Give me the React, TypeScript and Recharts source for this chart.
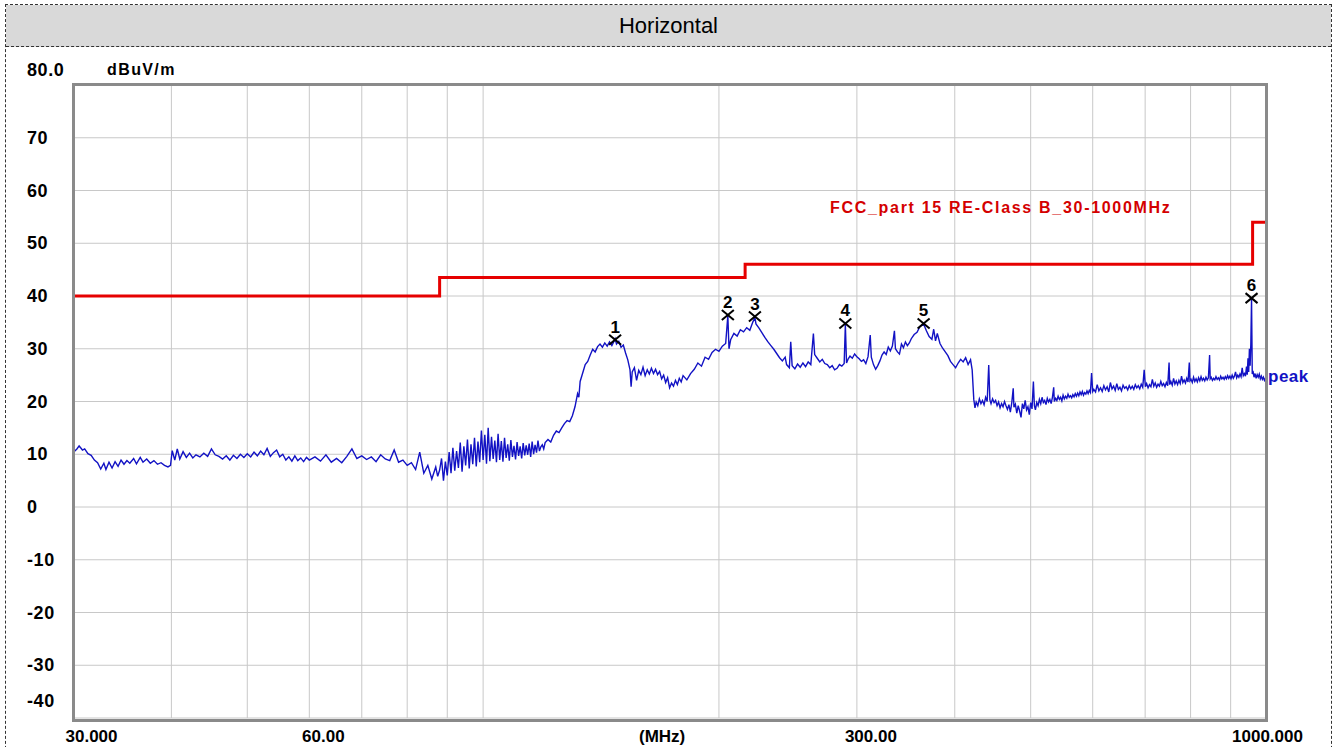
import React from "react";
import { ComposedChart, Line, Scatter, XAxis, YAxis, CartesianGrid } from "recharts";

// ---------- data ----------
const freqTicks = [30, 40, 50, 60, 70, 80, 90, 100, 200, 300, 400, 500, 600, 700, 800, 900, 1000];
const freqTickLabels: Record<number, string> = { 30: "30.000", 60: "60.00", 300: "300.00", 1000: "1000.000" };
const levelTicks = [80, 70, 60, 50, 40, 30, 20, 10, 0, -10, -20, -30, -40];
const levelTickLabels: Record<number, string> = { 80: "80.0" };

const limitFreqs = [30, 88, 216, 960, 1000];
const limitLevels = [40, 43.5, 46, 54, 54];

const markerIds = ["1", "2", "3", "4", "5", "6"];
const markerFreqs = [147.4, 205.3, 222.3, 290, 365, 957];
const markerLevels = [31.7, 36.4, 36.1, 34.8, 34.8, 39.6];

const peakTrace: [number, number][] = [
  [30, 10.4], [30.3, 11.0], [30.5, 11.6], [30.8, 10.8], [31.0, 11.0], [31.3, 10.1], [31.6, 9.8], [31.9, 8.9], [32.2, 8.4], [32.5, 7.2],
  [32.8, 8.3], [33.0, 7.1], [33.3, 8.5], [33.6, 7.4], [33.9, 8.6], [34.2, 7.7], [34.5, 8.9], [34.8, 8.1], [35.1, 8.8], [35.4, 8.3],
  [35.8, 9.2], [36.1, 8.2], [36.5, 9.4], [36.8, 8.5], [37.2, 9.1], [37.6, 8.3], [38.0, 8.8], [38.4, 8.1], [38.8, 8.4], [39.2, 7.9],
  [39.6, 7.6], [39.9, 7.9],
  [40.1, 10.7], [40.4, 8.9], [40.7, 11.0], [41.0, 9.1], [41.4, 10.5], [41.8, 9.4], [42.2, 10.2], [42.6, 9.3], [43.0, 9.9], [43.5, 9.5],
  [44.0, 10.2], [44.5, 9.6], [45.0, 11.0], [45.5, 9.9], [46.0, 9.6], [46.5, 9.1], [47.0, 9.7], [47.5, 8.9], [48.0, 9.8], [48.5, 9.2],
  [49.0, 10.0], [49.5, 9.4], [50.0, 10.1],
  [50.5, 9.5], [51.0, 10.4], [51.5, 9.7], [52.0, 10.6], [52.5, 9.9], [53.0, 11.1], [53.5, 9.6], [54.0, 10.3], [54.5, 10.8], [55.0, 9.5],
  [55.5, 10.0], [56.0, 8.9], [56.5, 9.5], [57.0, 8.7], [57.5, 9.7], [58.0, 8.8], [58.5, 9.3], [59.0, 8.6], [59.5, 9.4], [60.0, 8.9],
  [61, 9.5], [62, 8.7], [63, 9.9], [64, 8.5], [65, 9.2], [66, 8.4], [67, 9.6], [68, 11.0], [69, 9.2], [70, 9.7],
  [71, 9.0], [72, 9.5], [73, 8.6], [74, 9.9], [75, 9.1], [76, 8.8], [77, 10.8], [78, 8.5], [79, 8.9], [80, 7.9],
  [81, 8.4], [82, 7.1], [83, 10.4], [84, 6.4], [85, 7.9], [86, 5.3], [87, 7.6], [87.5, 5.8], [88, 7.0],
  [88.5, 9.2], [89, 5.0], [89.5, 8.6], [90, 6.0], [90.5, 10.4], [91, 6.4], [91.5, 11.2], [92, 6.9], [92.5, 10.6], [93, 7.4],
  [93.5, 12.2], [94, 6.7], [94.5, 11.5], [95, 7.9], [95.5, 12.8], [96, 7.3], [96.5, 11.9], [97, 8.1], [97.5, 13.1], [98, 7.7],
  [98.5, 12.4], [99, 8.5], [99.5, 14.5], [100, 8.9], [100.5, 13.7], [101, 8.2], [101.5, 15.0], [102, 8.7], [102.5, 13.3], [103, 9.1],
  [103.5, 12.6], [104, 8.5], [104.5, 13.9], [105, 8.9], [105.5, 12.5], [106, 8.6], [106.5, 13.1], [107, 9.3], [107.5, 11.9], [108, 8.8],
  [108.5, 12.7], [109, 9.5], [109.5, 11.6], [110, 9.0], [110.5, 12.3], [111, 9.7], [111.5, 11.5], [112, 9.2], [112.5, 12.1], [113, 9.8],
  [113.5, 11.7], [114, 9.9], [114.5, 12.0], [115, 9.5], [115.5, 12.4], [116, 10.0], [116.5, 11.8], [117, 10.3], [117.5, 12.6], [118, 10.6],
  [118.5, 11.4], [119, 11.8], [119.5, 11.0],
  [120, 12.2], [121, 12.8], [122, 12.3], [123, 13.6], [124, 14.4], [125, 14.1], [126, 15.0], [127, 15.8], [128, 16.4], [129, 16.2],
  [130, 17.3], [131, 19.0], [132, 21.5], [132.5, 20.8], [133, 23.8], [134, 25.4], [135, 27.0], [136, 27.6], [137, 28.8], [138, 29.9],
  [139, 29.4], [140, 30.4], [141, 30.9], [142, 30.3], [143, 31.1], [144, 30.5], [145, 31.3], [146, 30.6], [147, 31.5], [147.4, 31.9],
  [148, 30.9], [149, 31.4], [150, 30.3], [151, 30.7], [152, 29.2], [153, 27.9], [154, 26.0], [154.5, 22.8], [155, 25.6], [156, 26.4],
  [157, 24.0], [158, 25.9], [159, 25.1], [160, 26.5], [161, 24.9], [162, 26.0], [163, 25.2], [164, 26.3], [165, 25.3], [166, 26.1],
  [167, 25.1], [168, 25.7], [169, 24.3], [170, 25.0], [171, 23.6], [172, 24.5], [173, 22.6], [174, 23.5], [175, 22.9], [176, 24.0],
  [177, 23.2], [178, 24.4], [179, 23.7], [180, 24.9], [182, 24.1], [184, 25.3], [186, 26.1], [188, 27.3], [190, 26.7], [192, 28.4],
  [194, 28.0], [196, 29.3], [198, 29.9], [200, 29.5], [202, 30.5], [204, 31.0], [205.3, 36.3], [206, 30.0], [207, 31.7], [209, 32.9],
  [211, 32.4], [213, 33.6], [215, 33.2], [217, 34.0], [219, 33.5], [221, 35.1], [222.3, 35.9], [223, 34.7], [225, 33.9], [227, 33.0],
  [229, 32.1], [231, 31.3], [233, 30.6], [235, 29.9], [237, 29.1], [239, 28.3], [241, 27.7], [243, 28.4], [244, 27.0], [246, 26.4],
  [247, 31.3], [248, 26.8], [250, 26.2], [252, 27.1], [254, 26.5], [256, 27.3], [258, 26.6], [260, 27.5], [262, 27.0], [264, 32.9],
  [265, 28.9], [267, 28.2], [269, 27.5], [271, 28.0], [273, 27.2], [275, 27.0], [277, 26.4], [279, 26.8], [281, 26.0], [283, 26.3],
  [285, 27.0], [287, 26.7], [289, 27.2], [290, 34.6], [291, 27.3], [292.5, 28.1], [294, 28.6], [296, 28.2], [298, 29.0], [300, 28.5],
  [302, 28.1], [304, 27.6], [306, 27.9], [308, 27.2], [310, 28.5], [312, 32.6], [313, 28.4], [315, 27.0], [317, 26.1], [319, 26.8],
  [321, 27.7], [323, 28.8], [325, 29.4], [327, 28.9], [329, 30.3], [331, 29.6], [333, 30.5], [335, 33.4], [336, 30.0], [338, 29.4],
  [340, 29.0], [342, 30.9], [344, 30.2], [346, 31.3], [348, 30.6], [350, 31.1], [352, 31.9], [355, 32.7], [358, 33.1], [361, 34.2],
  [365, 34.7], [368, 33.4], [371, 32.3], [374, 31.8], [376, 33.7], [378, 31.5], [380, 32.9], [383, 31.0], [386, 30.1], [389, 29.4],
  [392, 28.7], [395, 27.6], [398, 27.0], [401, 26.4], [404, 27.3], [407, 28.0], [410, 27.5], [413, 28.3], [416, 27.0], [419, 27.9],
  [421, 26.0], [423, 20.4], [424.5, 18.8], [426, 19.9], [428, 19.2], [430, 20.5], [432, 19.6], [434, 20.2], [436, 19.4], [438, 20.8],
  [440, 20.0], [442, 26.9], [443.5, 20.3], [445, 19.6], [447, 20.5], [449, 19.8], [451, 20.2], [453, 19.2], [455, 19.9], [457, 18.8],
  [459, 19.6], [461, 19.0], [463, 20.0], [465, 19.2], [467, 18.5], [469, 19.4], [471, 18.0], [473, 19.8], [475, 22.5], [476, 18.9],
  [478, 19.5], [480, 17.8], [482, 19.2], [484, 18.2], [486, 17.0], [488, 19.6], [490, 18.6], [492, 20.2], [494, 18.4], [496, 19.0],
  [498, 17.5], [500, 19.8], [502, 18.6], [504, 23.8], [505.5, 19.2], [507, 18.4], [509, 19.8], [511, 19.2], [513, 20.4], [515, 19.6],
  [517, 20.8], [519, 19.8], [521, 20.2], [523, 19.4], [525, 20.6], [527, 19.9], [529, 20.4], [531, 19.6], [533, 20.8], [535, 22.7],
  [536, 20.0], [538, 20.6], [540, 20.2], [542, 21.0], [544, 20.4], [546, 20.8], [548, 20.1], [550, 21.2], [552, 20.5], [554, 21.0],
  [556, 20.6], [558, 21.4], [560, 20.8], [562, 21.1], [564, 20.7], [566, 21.3], [568, 20.9], [570, 21.5], [572, 21.0], [574, 21.6],
  [576, 21.1], [578, 21.8], [580, 21.3], [582, 21.9], [584, 21.2], [586, 21.7], [588, 21.4], [590, 22.0], [592, 21.5], [594, 22.1],
  [596, 21.7], [598, 25.4], [600, 21.9], [602, 22.3], [605, 21.8], [608, 23.2], [611, 22.0], [614, 22.6], [617, 21.9], [620, 23.0],
  [623, 22.2], [626, 22.8], [629, 21.8], [632, 23.6], [635, 22.4], [638, 22.9], [641, 22.1], [644, 23.4], [647, 22.3], [650, 22.7],
  [653, 22.0], [656, 23.1], [659, 22.5], [662, 22.8], [665, 22.2], [668, 23.0], [671, 22.4], [674, 22.9], [677, 22.3], [680, 23.2],
  [683, 22.6], [686, 23.0], [689, 22.4], [692, 23.3], [695, 22.7], [698, 26.0], [700.5, 22.8], [703, 23.4], [706, 22.6], [709, 23.2],
  [712, 22.8], [715, 24.2], [718, 22.9], [721, 23.5], [724, 22.7], [727, 23.3], [730, 22.9], [733, 23.8], [736, 23.0], [739, 23.4],
  [742, 22.8], [745, 23.6], [748, 23.0], [751, 27.4], [752.5, 23.2], [755, 23.8], [758, 23.1], [761, 24.4], [764, 23.3], [767, 23.9],
  [770, 23.2], [773, 24.0], [776, 23.4], [779, 24.8], [782, 23.6], [785, 24.1], [788, 23.5], [791, 24.4], [794, 23.7], [797, 27.4],
  [798.5, 23.9], [801, 24.2], [804, 23.6], [807, 24.6], [810, 23.8], [813, 24.3], [816, 23.7], [819, 24.5], [822, 23.9], [825, 24.7],
  [828, 24.0], [831, 24.4], [834, 23.9], [837, 24.6], [840, 24.1], [843, 24.5], [846, 28.8], [847.5, 24.3], [850, 24.6], [853, 24.0],
  [856, 24.4], [859, 24.1], [862, 24.7], [865, 24.2], [868, 24.5], [871, 24.1], [874, 24.8], [877, 24.3], [880, 24.6], [883, 24.2],
  [886, 24.7], [889, 24.3], [892, 24.9], [895, 24.4], [898, 24.8], [901, 24.3], [904, 25.0], [907, 24.4], [910, 24.8], [913, 25.6],
  [916, 24.5], [919, 25.0], [922, 24.6], [925, 25.2], [928, 24.7], [931, 26.4], [934, 24.9], [937, 25.3], [940, 24.8], [943, 26.6],
  [945, 25.1], [947, 28.2], [949, 25.6], [951, 30.0], [953, 26.8], [955, 31.0], [957, 39.5], [958, 32.5], [959, 25.2], [961, 25.8],
  [964, 24.6], [967, 25.3], [970, 24.4], [973, 25.1], [976, 24.6], [979, 25.2], [982, 24.3], [985, 24.8], [988, 24.2], [991, 24.6],
  [994, 24.0], [997, 24.4], [1000, 24.1],
];

// ---------- derived series ----------
const traceData = peakTrace.map(([f, v]) => ({ f, v }));
const limitData = limitFreqs.map((f, i) => ({ f, v: limitLevels[i] }));
const markerData = markerFreqs.map((f, i) => ({ f, v: markerLevels[i], n: markerIds[i] }));

// ---------- styles ----------
const W = 1338;
const H = 747;
const LABEL_FONT = "'Liberation Sans', Arial, sans-serif";
const xLabelShift: Record<number, number> = { 30: 18, 60: 14, 300: 14, 1000: 1 };

const renderYTick = (p: any) => {
  const v = p.payload.value as number;
  const dy = v === 80 ? -15 : v === -40 ? -17 : 0;
  return (
    <text key={`y${v}`} x={27} y={p.y + dy} dominantBaseline="central" textAnchor="start" fontFamily={LABEL_FONT}
      fontWeight="bold" fontSize={18} letterSpacing={0.6} fill="#000">
      {levelTickLabels[v] ?? String(v)}
    </text>
  );
};

const renderXTick = (p: any) => {
  const v = p.payload.value as number;
  const t = freqTickLabels[v];
  if (!t) return <g key={`x${v}`} />;
  return (
    <text key={`x${v}`} x={p.x + (xLabelShift[v] || 0)} y={736} dominantBaseline="central" textAnchor="middle"
      fontFamily={LABEL_FONT} fontWeight="bold" fontSize={17} fill="#000">
      {t}
    </text>
  );
};

const MarkerShape = (p: any) => {
  const { cx, cy, payload } = p;
  return (
    <g>
      <line x1={cx - 6} y1={cy - 5} x2={cx + 6} y2={cy + 5} stroke="#000" strokeWidth={2} />
      <line x1={cx - 6} y1={cy + 5} x2={cx + 6} y2={cy - 5} stroke="#000" strokeWidth={2} />
      <text x={cx} y={cy - 7} textAnchor="middle" fontFamily={LABEL_FONT} fontWeight="bold" fontSize={17} fill="#000">
        {payload.n}
      </text>
    </g>
  );
};

const txt = (extra: React.CSSProperties): React.CSSProperties => ({
  position: "absolute",
  fontFamily: LABEL_FONT,
  fontWeight: "bold",
  lineHeight: "1",
  whiteSpace: "nowrap",
  ...extra,
});

export default function App() {
  return (
    <div style={{ position: "absolute", left: 0, top: 0, width: W, height: H, overflow: "hidden", background: "#fff" }}>
      {/* outer dashed frame with title bar */}
      <div style={{ position: "absolute", left: 5, top: 4, width: 1327, height: 780, border: "1px dashed #333", boxSizing: "border-box" }} />
      <div style={{ position: "absolute", left: 6, top: 5, width: 1325, height: 41, background: "#d9d9d9", borderBottom: "1px dashed #333",
        display: "flex", alignItems: "center", justifyContent: "center", fontFamily: "'Liberation Sans', Arial, sans-serif", fontSize: 22, color: "#000" }}>
        Horizontal
      </div>

      <div style={{ position: "absolute", left: 0, top: 0 }}>
        <ComposedChart width={W} height={H} margin={{ top: 85, right: 71.5, bottom: 19, left: 63.5 }}>
          <CartesianGrid stroke="#c8c8c8" strokeWidth={1} />
          <XAxis dataKey="f" type="number" scale="log" domain={[30, 1000]} allowDataOverflow ticks={freqTicks}
            interval={0} axisLine={false} tickLine={false} height={10} tick={renderXTick} />
          <YAxis type="number" domain={[-40, 80]} allowDataOverflow ticks={levelTicks} interval={0}
            axisLine={false} tickLine={false} width={10} tick={renderYTick} />
          <Line data={limitData} dataKey="v" type="stepAfter" stroke="#e60000" strokeWidth={3} dot={false}
            isAnimationActive={false} />
          <Line data={traceData} dataKey="v" type="linear" stroke="#1212c4" strokeWidth={1.4} dot={false}
            isAnimationActive={false} />
          <Scatter data={markerData} dataKey="v" shape={<MarkerShape />} isAnimationActive={false} />
        </ComposedChart>
      </div>

      {/* plot frame */}
      <div style={{ position: "absolute", left: 72, top: 83, width: 1196, height: 639, border: "3px solid #8a8a8a", boxSizing: "border-box", pointerEvents: "none" }} />

      {/* texts */}
      <div style={txt({ left: 107, top: 62, fontSize: 16, color: "#000", letterSpacing: 1.4 })}>dBuV/m</div>
      <div style={txt({ left: 639, top: 728, fontSize: 17, color: "#000" })}>(MHz)</div>
      <div style={txt({ left: 830, top: 200, fontSize: 16, color: "#d40000", letterSpacing: 1.7 })}>FCC_part 15 RE-Class B_30-1000MHz</div>
      <div style={txt({ left: 1268, top: 368, fontSize: 17, color: "#1212c4", letterSpacing: 0.5 })}>peak</div>
    </div>
  );
}
